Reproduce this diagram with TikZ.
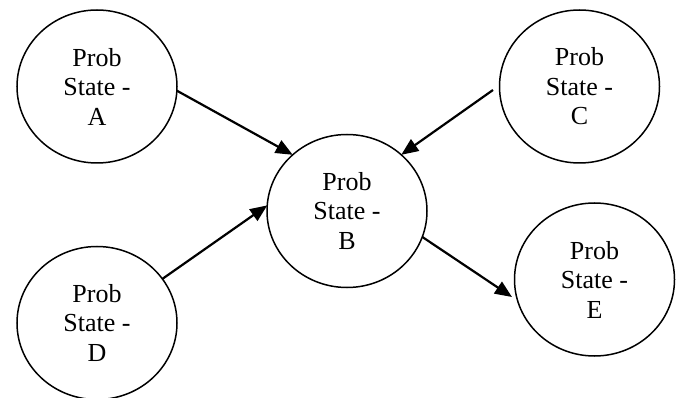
\documentclass[tikz,border=0pt]{standalone}
\usepackage{fontspec}
\setmainfont{Liberation Serif}
\usetikzlibrary{shapes.geometric,arrows.meta}
\begin{document}
\begin{tikzpicture}[x=1pt,y=-1pt,
  statenode/.style={ellipse,draw,line width=1.5pt,minimum width=160pt,minimum height=153pt,inner sep=0pt,outer sep=0pt,align=center,font=\fontsize{26}{29.5}\selectfont},
  conn/.style={line width=2.2pt,-{Triangle[length=17pt,width=14pt]}}]
\useasboundingbox (0,0) rectangle (683,398);
\node[statenode] (A) at (97,86.5) {Prob\\State -\\A};
\node[statenode] (C) at (579.5,86.5) {Prob\\State -\\C};
\node[statenode] (B) at (347,211) {Prob\\State -\\B};
\node[statenode] (D) at (97,323) {Prob\\State -\\D};
\node[statenode] (E) at (594.5,279.5) {Prob\\State -\\E};
\coordinate (cs) at (493,90);
\coordinate (et) at (512,297);
\draw[conn] (A.-3) -- (B.134);
\draw[conn] (cs) -- (B.46.5);
\draw[conn] (D.34) -- (B.176);
\draw[conn] (B.-19) -- (et);
\end{tikzpicture}
\end{document}
